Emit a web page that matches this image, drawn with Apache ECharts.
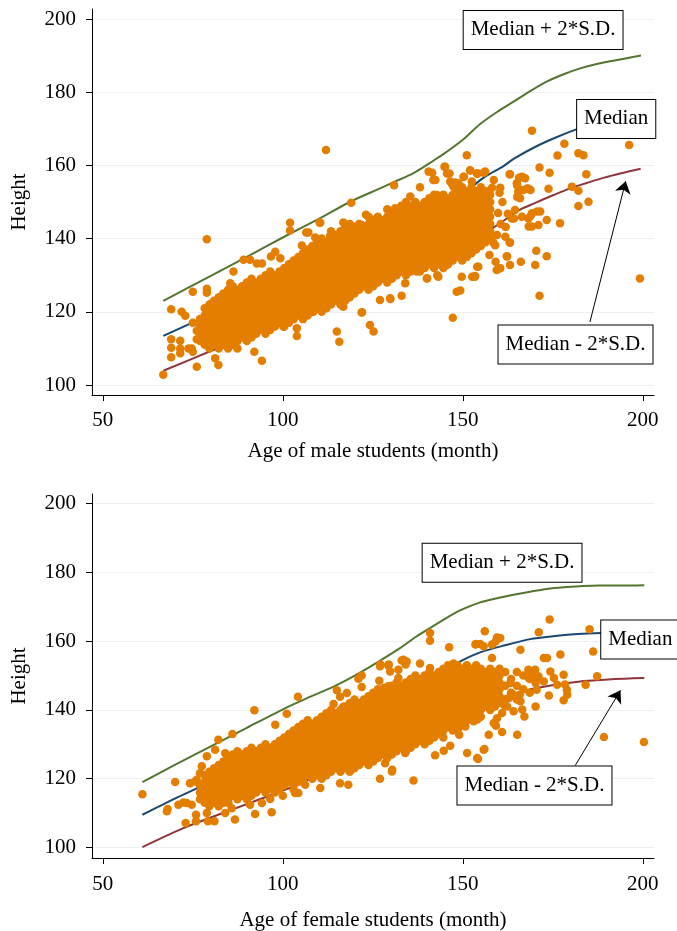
<!DOCTYPE html>
<html><head><meta charset="utf-8">
<script src="https://cdn.jsdelivr.net/npm/echarts@6/dist/echarts.min.js"></script>
<style>html,body{margin:0;padding:0;background:#fff}#c{width:677px;height:931px}</style>
</head><body><div id="c"></div>
<script>
const xTicks=[50,100,150,200];
const yTicks=[100,120,140,160,180,200];
const xTitleMale='Age of male students (month)';
const xTitleFemale='Age of female students (month)';
const yTitle='Height';
const labelUpper='Median + 2*S.D.', labelMedian='Median', labelLower='Median - 2*S.D.';

// reference curves (age in months, height)
const maleUpper=[[66.8,123],[80,129.8],[90,135],[100,140.3],[110,145.4],[119,150.2],[127,153.7],[131,155.5],[136.3,157.9],[142,161.4],[145.5,163.7],[150,167],[154.8,171.3],[159.5,174.6],[164.1,177.4],[168.7,180.3],[173.3,182.9],[178,184.9],[182.6,186.5],[187.2,187.7],[191.8,188.6],[195.5,189.3],[199.5,190]];
const maleMedian=[[66.8,113.4],[80,119.4],[90,124.2],[100,128.9],[110.4,133.7],[118,137.5],[126.1,140.8],[134,144.5],[142,148.5],[148.3,151.5],[152,153.8],[156,156.8],[161.3,159.8],[164.1,161.8],[170.6,165.3],[176,167.7],[181.7,169.9],[188,172],[194,173.5],[199.5,174.5]];
const maleLower=[[66.8,103.9],[80,109.3],[90,113.5],[100,117.7],[110.4,121.6],[118,124.4],[126.1,127.8],[132,130],[138.1,132.3],[145,136],[152,139.8],[158.8,143.2],[165.5,147.7],[170,149.7],[175.2,151.9],[180,153.8],[184.4,155.2],[189,156.6],[193.7,157.8],[199.4,159.1]];
const femaleUpper=[[61,119],[70,124],[80,129.4],[90,134.8],[102,141.2],[108,144],[114.1,146.8],[120,150],[126.5,154],[132,157.6],[137,161.3],[141,163.9],[145.5,166.8],[150,169.3],[154.8,171.3],[159.5,172.5],[164.1,173.5],[168.7,174.4],[173.3,175.2],[178,175.7],[182.6,176],[188,176.2],[194,176.2],[200.4,176.3]];
const femaleMedian=[[61,109.5],[70,114.2],[80.3,119.2],[90,123.8],[100.6,128.4],[107.6,132.8],[115,136.7],[124.3,141],[132.6,145.4],[139.1,148.8],[143.7,150.9],[150,154.5],[155,156.8],[161.7,158.8],[168.7,160.6],[175.6,161.5],[182,162.1],[188.6,162.4],[194,162.5],[200.4,162.6]];
const femaleLower=[[61,100.1],[71.9,105.4],[80,108.7],[90,112.6],[103,117.8],[114.1,123.1],[125,128.4],[135.4,133.8],[142,137],[147.5,139.3],[154,141.9],[161.7,143.9],[168,145.8],[175.6,147.3],[182.6,148.3],[189.5,148.8],[195,149.1],[200.4,149.3]];

// dense core of the clouds, read column by column (age, heights)
const maleDenseAge=[77.0,78.3,79.6,80.9,82.2,83.5,84.8,86.1,87.4,88.7,90.0,91.3,92.6,93.9,95.2,96.5,97.8,99.1,100.4,101.7,103.0,104.3,105.6,106.9,108.2,109.5,110.8,112.1,113.4,114.7,116.0,117.3,118.6,119.9,121.2,122.5,123.8,125.1,126.4,127.7,129.0,130.3,131.6,132.9,134.2,135.5,136.8,138.1,139.4,140.7,142.0,143.3,144.6,145.9,147.2,148.5,149.8,151.1,152.4,153.7,155.0,156.3,157.6];
const maleDenseHeight=[
[112,114,116,118],
[111,113,115,117,119,121],
[110,112,114,116,118,120,122],
[111,113,115,117,119,121,123],
[110,112,114,116,118,120,122,124],
[111,113,115,117,119,121,123,125],
[110,112,114,116,118,120,122,124,126],
[111,113,115,117,119,121,123,125,127],
[110,112,114,116,118,120,122,124,126],
[113,115,117,119,121,123,125,127],
[112,114,116,118,120,122,124,126,128],
[113,115,117,119,121,123,125,127,129],
[114,116,118,120,122,124,126,128],
[115,117,119,121,123,125,127,129],
[114,116,118,120,122,124,126,128,130],
[115,117,119,121,123,125,127,129,131],
[116,118,120,122,124,126,128,130],
[117,119,121,123,125,127,129,131],
[116,118,120,122,124,126,128,130,132],
[117,119,121,123,125,127,129,131,133],
[118,120,122,124,126,128,130,132,134],
[119,121,123,125,127,129,131,133,135],
[118,120,122,124,126,128,130,132,134,136],
[119,121,123,125,127,129,131,133,135,137],
[120,122,124,126,128,130,132,134,136,138],
[121,123,125,127,129,131,133,135,137,139],
[120,122,124,126,128,130,132,134,136,138,140],
[121,123,125,127,129,131,133,135,137,139],
[122,124,126,128,130,132,134,136,138,140,142],
[123,125,127,129,131,133,135,137,139,141],
[122,124,126,128,130,132,134,136,138,140,142],
[123,125,127,129,131,133,135,137,139,141,143],
[124,126,128,130,132,134,136,138,140,142,144],
[125,127,129,131,133,135,137,139,141,143],
[126,128,130,132,134,136,138,140,142,144],
[127,129,131,133,135,137,139,141,143],
[126,128,130,132,134,136,138,140,142,144,146],
[127,129,131,133,135,137,139,141,143,145],
[128,130,132,134,136,138,140,142,144,146],
[129,131,133,135,137,139,141,143,145],
[128,130,132,134,136,138,140,142,144,146,148],
[129,131,133,135,137,139,141,143,145,147],
[130,132,134,136,138,140,142,144,146,148],
[131,133,135,137,139,141,143,145,147,149],
[130,132,134,136,138,140,142,144,146,148,150],
[131,133,135,137,139,141,143,145,147,149],
[132,134,136,138,140,142,144,146,148,150],
[131,133,135,137,139,141,143,145,147,149],
[132,134,136,138,140,142,144,146,148,150],
[133,135,137,139,141,143,145,147,149,151],
[132,134,136,138,140,142,144,146,148,150,152],
[133,135,137,139,141,143,145,147,149,151],
[132,134,136,138,140,142,144,146,148,150,152],
[133,135,137,139,141,143,145,147,149,151],
[134,136,138,140,142,144,146,148,150,152],
[135,137,139,141,143,145,147,149,151,153],
[134,136,138,140,142,144,146,148,150,152,154],
[135,137,139,141,143,145,147,149,151,153],
[136,138,140,142,144,146,148,150,152,154],
[137,139,141,143,145,147,149,151,153],
[138,140,142,144,146,148,150,152,154],
[139,141,143,145,147,149,151,153],
[140,142,144,146,148,150,152]
];
// scattered individual students (outside the dense core)
const maleScatter=[
[66.8,102.8],[69,120.7],[69,112.5],[69,110.2],[69,107.6],[71.5,112.1],[71.5,110],[71.5,108.7],[71.9,120],[72.9,118.9],[75,125.5],[75,117],[76.1,105],[76.1,114.8],[76.1,112.5],[78.9,139.8],[78.9,126.3],[78.9,125.2],[80,122.1],[82.1,105.5],[81.2,107.3],[74.7,110],[73.8,110],[75,109.1],[86.3,131],[85.4,127.8],[89.1,134.2],[90.9,134.2],[92.8,133.2],[94.2,133.2],[92.1,109.1],[94.2,106.6],[96.7,135.1],[97.9,136.4],[99.3,134.6],[102,144.3],[102,142.2],[105.3,138.1],[106.5,141.7],[107.1,141.7],[109,140.3],[103.9,115.5],[103.9,113.4],[100.2,115.9],[97.1,116.1],[101.1,117.8],[102.9,118],[115,114.6],[115.7,111.8],[110.4,144.3],
[112,164.2],[119,149.8],[110.2,144.4],[113.1,140.7],[116.8,144.4],[119.6,143.3],[121.9,143.7],[123.1,146.5],[124.2,145.5],[130.9,154.6],[131.2,148.3],[133,147.4],[135.4,151.5],[138.1,154],[140.5,158.3],[141.8,156],[142.8,151.9],[145.1,159.6],[146.3,157.8],[146.5,155.6],[147.4,154.2],[148.8,155.1],[150.2,156.9],[151.1,162.8],[152,158.7],[154.1,157.8],[140,150.1],[142.8,149.6],[144.6,150.4],[149.7,145.1],[153,150.1],[108.5,120],[116.8,121.4],[117.8,123.7],[121.9,119.8],[124.2,116.4],[125.2,114.6],[127,123.2],[129.8,123.7],[133,124.4],[134,127.8],[137.2,131],[140,129.1],[143.2,129.6],[145.5,132.8],[148.3,125.5],[149.7,129.6],[153.4,129.8],[147.2,118.4],[122,119.9],[129.9,123.5],[144.9,159.6],[145.6,157.8],[141.5,158],[142.4,156],[152.1,158.6],[154,157.8],[155.8,158],[150.3,156.9],[147,154.9],[147.9,155.3],[158.6,156],[158.1,153.9],[160.4,153.9],[149.3,125.8],[140.1,129.2],[142.9,130],[154,132.3],[152.6,129.6],
[159.5,141],[160.5,144],[159.8,147],[161,150],[160.2,152.5],[161.8,140.5],[162.5,146.8],[161.9,143.2],
[169.2,169.5],[178.2,165.9],[176.3,162.7],[182.1,163.3],[183.5,162.8],[196.2,165.6],[171.3,159.4],[174.1,158],[184.3,157.6],[180.3,154.2],[182.1,153.1],[173.8,153.6],[184.9,150.1],[182.1,148.9],[163.1,157.6],[165,155.1],[166.4,156.9],[167.3,156.5],[165.4,152.8],[166.8,153.3],[168.2,153.6],[165.9,151],[168.2,145.5],[169.2,146.9],[171.5,147.4],[173.3,145.1],[171,143.7],[169.2,143.3],[177,144.2],[164.5,147.8],[163.6,145.5],[166.4,146],[163.1,138.9],[162.2,135.2],[163.1,132.8],[159.4,131.4],[160.4,131.9],[166.1,133.7],[170.4,136.7],[173.3,135.2],[170.1,132.8],[171.3,124.4],[199.2,129.1],[157.4,135.5],[154.3,132.3],[153.4,129.6],[159,138.2],[158.5,138.9],[156.2,158.3],[153.9,157.8],[152.5,155.6],[163,139],[162.3,135.1],[165.6,156.6],[166.9,156.6],[165.1,154.5],[165.1,151.4],[167.9,153.7],[168.8,153.3],[164.2,145.5],[170.6,147.4],[168.8,146.2],[168.3,143.3],[163,157.6],[160.2,131.9],[159.1,133.7]
];

const femaleDenseAge=[77.0,78.3,79.6,80.9,82.2,83.5,84.8,86.1,87.4,88.7,90.0,91.3,92.6,93.9,95.2,96.5,97.8,99.1,100.4,101.7,103.0,104.3,105.6,106.9,108.2,109.5,110.8,112.1,113.4,114.7,116.0,117.3,118.6,119.9,121.2,122.5,123.8,125.1,126.4,127.7,129.0,130.3,131.6,132.9,134.2,135.5,136.8,138.1,139.4,140.7,142.0,143.3,144.6,145.9,147.2,148.5,149.8,151.1,152.4,153.7,155.0,156.3,157.6,158.9,160.2,161.8,163.4,165.0,166.8,168.6];
const femaleDenseHeight=[
[114,116,118],
[113,115,117,119,121],
[112,114,116,118,120,122],
[113,115,117,119,121,123],
[112,114,116,118,120,122,124],
[113,115,117,119,121,123,125],
[114,116,118,120,122,124,126],
[115,117,119,121,123,125,127],
[114,116,118,120,122,124,126,128],
[115,117,119,121,123,125,127],
[114,116,118,120,122,124,126,128],
[115,117,119,121,123,125,127,129],
[116,118,120,122,124,126,128],
[117,119,121,123,125,127,129],
[116,118,120,122,124,126,128,130],
[117,119,121,123,125,127,129],
[116,118,120,122,124,126,128,130],
[117,119,121,123,125,127,129,131],
[118,120,122,124,126,128,130,132],
[119,121,123,125,127,129,131,133],
[118,120,122,124,126,128,130,132,134],
[119,121,123,125,127,129,131,133,135],
[120,122,124,126,128,130,132,134,136],
[121,123,125,127,129,131,133,135,137],
[120,122,124,126,128,130,132,134,136],
[121,123,125,127,129,131,133,135,137],
[120,122,124,126,128,130,132,134,136,138],
[121,123,125,127,129,131,133,135,137,139],
[122,124,126,128,130,132,134,136,138,140],
[123,125,127,129,131,133,135,137,139],
[122,124,126,128,130,132,134,136,138,140],
[123,125,127,129,131,133,135,137,139,141],
[122,124,126,128,130,132,134,136,138,140,142],
[123,125,127,129,131,133,135,137,139,141,143],
[124,126,128,130,132,134,136,138,140,142],
[125,127,129,131,133,135,137,139,141,143],
[124,126,128,130,132,134,136,138,140,142,144],
[125,127,129,131,133,135,137,139,141,143,145],
[126,128,130,132,134,136,138,140,142,144,146],
[127,129,131,133,135,137,139,141,143,145],
[126,128,130,132,134,136,138,140,142,144,146],
[127,129,131,133,135,137,139,141,143,145,147],
[128,130,132,134,136,138,140,142,144,146,148],
[129,131,133,135,137,139,141,143,145,147],
[128,130,132,134,136,138,140,142,144,146,148],
[129,131,133,135,137,139,141,143,145,147,149],
[130,132,134,136,138,140,142,144,146,148,150],
[131,133,135,137,139,141,143,145,147,149],
[130,132,134,136,138,140,142,144,146,148,150],
[131,133,135,137,139,141,143,145,147,149,151],
[132,134,136,138,140,142,144,146,148,150],
[133,135,137,139,141,143,145,147,149,151],
[132,134,136,138,140,142,144,146,148,150,152],
[135,137,139,141,143,145,147,149,151,153],
[134,136,138,140,142,144,146,148,150,152],
[137,139,141,143,145,147,149,151,153],
[136,138,140,142,144,146,148,150,152],
[137,139,141,143,145,147,149,151,153],
[138,140,142,144,146,148,150,152],
[139,141,143,145,147,149,151,153],
[138,140,142,144,146,148,150,152],
[141,143,145,147,149,151],
[140,142,144,146,148,150,152],
[141,143,145,147,149,151],
[142,144,146,148,150,152],
[143,147,151],
[145,149],
[143,147,151],
[146,150],
[145,149]
];
const femaleScatter=[
[61,115.5],[70.1,119],[67.8,110.5],[68,111.2],[71,112.4],[72.4,113.1],[73.3,112.9],[74.7,112.4],[73,107.1],[75.9,109.5],[75.9,107.6],[74.2,118.7],[75.6,119.2],[76.1,119.7],
[78.9,126.5],[77.5,123.6],[77,121.6],[81.2,128.4],[82.1,131.3],[86,133],[84,127.4],[92.1,139.9],[97.9,135.7],[101.1,138.9],[104.2,143.8],
[79.2,107.6],[81,107.6],[78.9,110],[84,110],[86.7,108.1],[85.8,111.4],[84.9,112.9],[92.3,109.7],[96.9,110.2],[94.2,112.9],[96.5,114.1],[90.9,112.4],[100,115],[103.4,115.8],[104.3,115.8],[103,116.8],[106.2,118.2],[110.4,117.3],[115.9,118.7],[118.2,118.2],[127,120],[130.4,122.6],[136.3,119.5],[130.3,122.1],[128.4,124.5],[134,127.5],[142.3,126.8],[144.7,128.1],[146.5,129.6],[151.2,127.5],[154,126],[155.8,128.4],[154.2,125.7],[156,128.6],
[140.9,162.4],[140.9,160.1],[146.2,158.2],[133.5,154.6],[133,154.4],[134.4,154.1],[127,152.7],[129.3,152.9],[129.8,151.2],[138.1,153.5],[140.9,152.2],[147.4,153.5],[132.1,151.7],[132.1,149.3],[121.9,150],[121,149.1],[126.8,148.5],[115,145.7],[117.8,144.9],[115.9,143.8],[121.9,146.7],[114.1,141.7],[116.8,140.9],[128,146.4],[129.3,146.9],[127.1,153.2],[129.4,153.2],[134.1,153.2],
[174.1,166.3],[171.1,162.6],[185.2,163.5],[186.2,157],[177.1,156.1],[172.5,155.1],[173.4,155.1],[166,157.5],[156.1,162.9],[153.5,159],[155.8,158.5],[158.1,159],[159.5,161.1],[160.4,160.9],[159.1,159.9],[153.6,159.2],[154.8,159.2],[158.1,155.1],[187.3,149.8],[184.1,147.3],[178,150.2],[174.3,151.2],[179,144.4],[178,142.8],[173.9,144.2],[170.2,141],[166,142.5],[166.5,140.1],[164.1,139.6],[161.4,141.5],[160.9,139.1],[189.2,132.1],[200.3,130.7],[165.1,132.8],[160.9,133.6],[157.2,132.8],[153,136.7],[154,137.2],[150.7,135.2],[158.6,136.2],[159.5,137.6],[147.5,136.2],[169.7,150.2],[170.6,149.3],[176.2,147.3],[175.3,149.3],[170.2,147.8],[172.5,148.3],[168.3,149.3],[163.2,147.8],[164.1,144.4],[162.8,143.5],[165.8,144.4],[162.3,141],[178.4,147.4],[178.9,145.9],[167.1,138.1],[159.2,135.4],[149,132.8],[148.8,134.7],[170.1,151.7],[171,149.8],[168.2,151.7],[169.2,150],[170.5,145.9],[157.1,144.9],[159,145.4]
];

function columnsToPoints(ages, heights){
  const out=[];
  ages.forEach((a,i)=>heights[i].forEach(h=>out.push([a,h])));
  return out;
}
const malePoints=columnsToPoints(maleDenseAge,maleDenseHeight).concat(maleScatter);
const femalePoints=columnsToPoints(femaleDenseAge,femaleDenseHeight).concat(femaleScatter);

const FONT='"Liberation Serif","Times New Roman",serif';
const GREEN='#55752f', NAVY='#1a476f', MAROON='#90353b', ORANGE='#e37e00';
const txt={fontFamily:FONT,fontSize:21,color:'#000'};

function makeX(idx,name,gap,margin){
  return {gridIndex:idx,type:'value',min:47,max:203.1,
    axisLine:{show:true,onZero:false,lineStyle:{color:'#000',width:1}},
    axisTick:{show:true,length:6,customValues:xTicks,lineStyle:{color:'#000',width:1}},
    axisLabel:{customValues:xTicks,margin:margin,...txt},
    splitLine:{show:false},
    name:name,nameLocation:'middle',nameGap:gap,nameTextStyle:{...txt}};
}
function makeY(idx,min,max){
  return {gridIndex:idx,type:'value',min:min,max:max,
    axisLine:{show:true,onZero:false,lineStyle:{color:'#000',width:1}},
    axisTick:{show:true,length:6,customValues:yTicks,lineStyle:{color:'#000',width:1}},
    axisLabel:{customValues:yTicks,margin:16,...txt},
    splitLine:{show:true,lineStyle:{color:'#eaf0f3',width:1}},
    name:yTitle,nameLocation:'middle',nameGap:62,nameTextStyle:{...txt}};
}
function curve(idx,data,color){
  return {type:'line',xAxisIndex:idx,yAxisIndex:idx,data:data,smooth:0.3,
    symbol:'none',showSymbol:false,silent:true,z:2,
    lineStyle:{color:color,width:2}};
}
function cloud(idx,data){
  return {type:'scatter',xAxisIndex:idx,yAxisIndex:idx,data:data,symbolSize:8.5,
    silent:true,z:3,itemStyle:{color:ORANGE,opacity:1}};
}
const boxLabel={show:true,position:'inside',...txt,lineHeight:22,backgroundColor:'#fff',
  borderColor:'#000',borderWidth:1,padding:[8,7,8,7]};
function notes(idx,boxes,arrow){
  return {type:'scatter',xAxisIndex:idx,yAxisIndex:idx,data:[],z:10,silent:true,clip:false,
    markPoint:{symbol:'rect',symbolSize:1,itemStyle:{color:'rgba(0,0,0,0)'},label:boxLabel,
      silent:true,animation:false,
      data:boxes.map(b=>({coord:b.at,value:b.text,label:{formatter:b.text}}))},
    markLine:{symbol:['none','arrow'],symbolSize:12,silent:true,animation:false,
      lineStyle:{color:'#000',width:1,type:'solid'},label:{show:false},
      data:[[{coord:arrow[0]},{coord:arrow[1]}]]}};
}

const chart=echarts.init(document.getElementById('c'),null,{renderer:'canvas'});
chart.setOption({
  animation:false,
  backgroundColor:'#fff',
  grid:[
    {left:92,top:9,width:562,height:386,outerBoundsMode:'none'},
    {left:92,top:494,width:562,height:364,outerBoundsMode:'none'}
  ],
  xAxis:[makeX(0,xTitleMale,46,15),makeX(1,xTitleFemale,52,16)],
  yAxis:[makeY(0,97.27,202.73),makeY(1,96.92,202.82)],
  series:[
    curve(0,maleUpper,GREEN),curve(0,maleMedian,NAVY),curve(0,maleLower,MAROON),
    cloud(0,malePoints),
    notes(0,[{text:labelUpper,at:[172.3,197.0]},{text:labelMedian,at:[192.6,172.7]},{text:labelLower,at:[181.3,111.1]}],
      [[185.3,117.2],[195.25,155.7]]),
    curve(1,femaleUpper,GREEN),curve(1,femaleMedian,NAVY),curve(1,femaleLower,MAROON),
    cloud(1,femalePoints),
    notes(1,[{text:labelUpper,at:[160.9,182.8]},{text:labelMedian,at:[199.3,160.5]},{text:labelLower,at:[169.9,118.0]}],
      [[181.2,123.8],[193.8,145.7]])
  ]
});
</script></body></html>
